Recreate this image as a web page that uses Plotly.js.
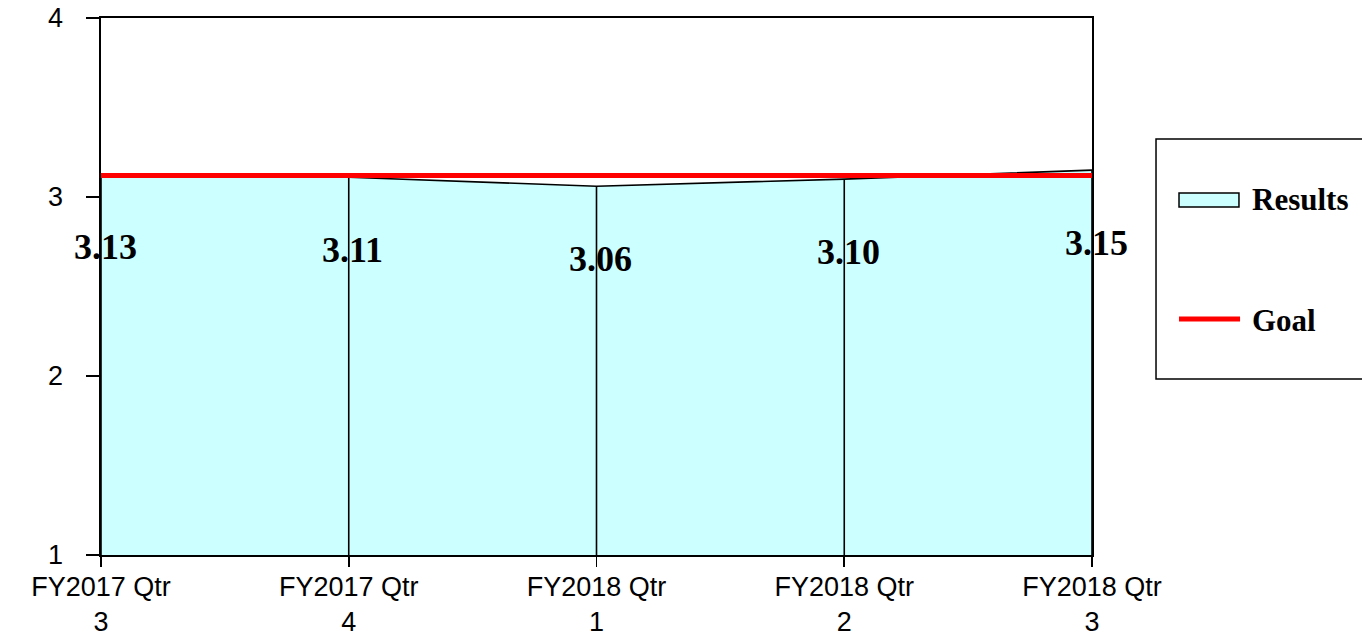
<!DOCTYPE html>
<html>
<head>
<meta charset="utf-8">
<script src="https://cdn.plot.ly/plotly-3.0.1.min.js"></script>
<style>html,body{margin:0;padding:0;background:#fff;}#chart{width:1362px;height:636px;}</style>
</head>
<body>
<div id="chart"></div>
<script>
const categories = ["FY2017 Qtr 3", "FY2017 Qtr 4", "FY2018 Qtr 1", "FY2018 Qtr 2", "FY2018 Qtr 3"];
const tickLabels = ["FY2017 Qtr<br>3", "FY2017 Qtr<br>4", "FY2018 Qtr<br>1", "FY2018 Qtr<br>2", "FY2018 Qtr<br>3"];
const results = [3.13, 3.11, 3.06, 3.10, 3.15];
const goal = [3.12, 3.12, 3.12, 3.12, 3.12];
const yTicks = [1, 2, 3, 4];
const seriesNames = ["Results", "Goal"];
const yBase = 1;

const serif = "Liberation Serif, Times New Roman, serif";
const sans = "Liberation Sans, Arial, sans-serif";
const fillColor = "#CCFFFF";
const goalColor = "#FF0000";

const traces = [
  {
    x: categories, y: results, name: seriesNames[0], type: "scatter", mode: "lines",
    fill: "tozeroy", fillcolor: fillColor,
    line: {color: "#000000", width: 1.6},
    error_y: {type: "data", symmetric: false, array: results.map(() => 0),
              arrayminus: results.map(v => v - yBase), width: 0, color: "#000000", thickness: 1.6},
    showlegend: false, hoverinfo: "skip"
  },
  {
    x: categories, y: goal, name: seriesNames[1], type: "scatter", mode: "lines",
    line: {color: goalColor, width: 5},
    showlegend: false, hoverinfo: "skip"
  }
];

const annotations = categories.map((c, i) => ({
  x: c, y: results[i], xref: "x", yref: "y",
  text: "<b>" + results[i].toFixed(2) + "</b>", showarrow: false,
  yshift: -73, xshift: 4,
  font: {family: serif, size: 36, color: "#000"}
}));

// legend (drawn manually to match the boxed legend of the reference)
const legFont = {family: serif, size: 31, color: "#000"};
annotations.push(
  {xref: "paper", yref: "paper", x: 1.1595, y: 0.6611, xanchor: "left", yanchor: "middle",
   text: "<b>" + seriesNames[0] + "</b>", showarrow: false, font: legFont},
  {xref: "paper", yref: "paper", x: 1.1595, y: 0.4376, xanchor: "left", yanchor: "middle",
   text: "<b>" + seriesNames[1] + "</b>", showarrow: false, font: legFont}
);

const layout = {
  width: 1362, height: 636,
  margin: {l: 101, r: 270, t: 18, b: 81, autoexpand: false},
  paper_bgcolor: "#ffffff", plot_bgcolor: "#ffffff",
  showlegend: false,
  xaxis: {
    type: "category", range: [0, 4], tickvals: categories, ticktext: tickLabels,
    showgrid: false, zeroline: false, showline: true, mirror: true,
    linecolor: "#000", linewidth: 1.6, ticks: "outside", ticklen: 10, tickwidth: 1.6, tickcolor: "#000",
    ticklabelstandoff: -3,
    tickfont: {family: sans, size: 27, color: "#000"}, fixedrange: true
  },
  yaxis: {
    range: [1, 4], tickvals: yTicks, showgrid: false, zeroline: false, showline: true, mirror: true,
    linecolor: "#000", linewidth: 1.6, ticks: "outside", ticklen: 13, tickwidth: 1.6, tickcolor: "#000",
    ticklabelstandoff: 18,
    tickfont: {family: sans, size: 27, color: "#000"}, fixedrange: true
  },
  shapes: [
    {type: "rect", xref: "paper", yref: "paper", x0: 1.0646, x1: 1.30, y0: 0.3277, y1: 0.7747,
     line: {color: "#000", width: 1.5}, fillcolor: "rgba(0,0,0,0)"},
    {type: "rect", xref: "paper", yref: "paper", x0: 1.0878, x1: 1.1483, y0: 0.6480, y1: 0.6741,
     line: {color: "#000", width: 1.5}, fillcolor: fillColor},
    {type: "line", xref: "paper", yref: "paper", x0: 1.0878, x1: 1.1494, y0: 0.4395, y1: 0.4395,
     line: {color: goalColor, width: 5}}
  ],
  annotations: annotations
};

Plotly.newPlot("chart", traces, layout, {staticPlot: true});
</script>
</body>
</html>
